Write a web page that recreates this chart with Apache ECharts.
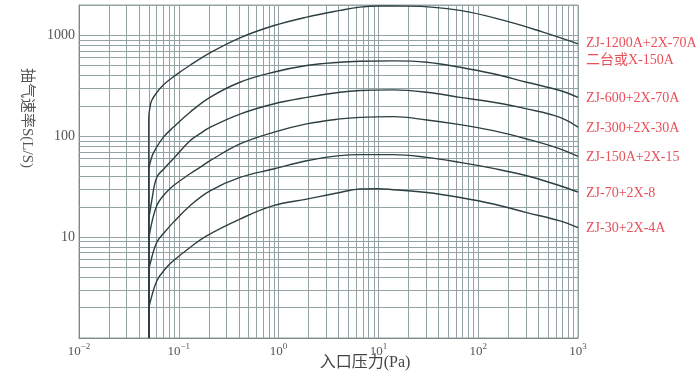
<!DOCTYPE html>
<html><head><meta charset="utf-8">
<script src="https://cdn.jsdelivr.net/npm/echarts@6/dist/echarts.min.js"></script>
<style>html,body{margin:0;padding:0;background:#fff}#c{width:700px;height:378px}</style>
</head><body><div id="c"></div>
<script>
// Series names (end labels)
const seriesNames = ['ZJ-1200A+2X-70A\n二台或X-150A','ZJ-600+2X-70A','ZJ-300+2X-30A','ZJ-150A+2X-15','ZJ-70+2X-8','ZJ-30+2X-4A'];
// [inlet pressure Pa, pumping speed L/S]
const zj1200 = [[0.05,1],[0.05,150],[0.0515,195],[0.0535,226],[0.0601,271],[0.0699,322],[0.0881,388],[0.1295,506],[0.2054,672],[0.4104,946],[0.885,1245],[1.912,1517],[4.124,1767],[6.54,1905],[10,1955],[20,1950],[65.7,1767],[208,1352],[446,1076],[1000,825]];
const zj600 = [[0.05,1],[0.05,45],[0.0535,62],[0.0577,73],[0.0699,97.5],[0.0881,122.6],[0.1295,173],[0.2054,243],[0.4104,343],[0.885,431],[1.912,502],[4.124,542],[6.54,554],[14.1,559],[30.5,542],[65.7,483],[141.7,416],[306,343],[660,284],[1000,243]];
const zj300 = [[0.05,1],[0.05,15],[0.0515,18],[0.0535,22.9],[0.0601,39],[0.0727,48.8],[0.0881,59.9],[0.1295,90.4],[0.163,106],[0.2054,122.6],[0.4104,166],[0.885,209],[1.912,243],[4.124,273],[6.54,284],[14.1,288],[30.5,273],[65.7,243],[141.7,217],[306,187],[660,154],[1000,123]];
const zj150 = [[0.05,1],[0.05,9],[0.0515,11.5],[0.0601,20.5],[0.0727,26.9],[0.0881,32.3],[0.1295,42.5],[0.17,50.5],[0.2054,57.2],[0.4104,83.9],[0.885,109.3],[1.912,132.5],[4.124,148.5],[6.54,154],[14.1,156.5],[30.5,145],[65.7,130.4],[141.7,113.6],[306,94],[660,75],[1000,63]];
const zj70 = [[0.05,1],[0.05,4.5],[0.0515,5.4],[0.0601,8.84],[0.0727,11.3],[0.0881,14],[0.1295,20.5],[0.2054,28.8],[0.4104,39.1],[0.885,47.3],[1.912,57.2],[4.124,64.2],[6.54,65.7],[14.1,65.7],[30.5,61.7],[65.7,55.1],[141.7,48],[306,40.6],[660,32.3],[1000,28]];
const zj30 = [[0.05,1],[0.05,1.9],[0.0515,2.24],[0.0601,3.68],[0.0727,4.8],[0.0881,5.82],[0.1295,7.9],[0.19,10.3],[0.4104,15.1],[0.885,20.5],[1.912,23.8],[4.124,27.7],[6.54,30],[10,30.2],[14.1,29.5],[30.5,27.7],[65.7,24.7],[141.7,21.3],[306,17.5],[660,14.5],[1000,12.4]];
const curves = [zj1200, zj600, zj300, zj150, zj70, zj30];
// Axis ticks
const xTickExponents = [-2,-1,0,1,2,3];
const yTickValues = [10,100,1000];
const yTickLabels = ['10','100','1000'];
const minorMultipliers = [2,3,4,5,6,7,8,9];
const xDecades = [0.01,0.1,1,10,100];
const yDecades = [1,10,100,1000];

const gridColor = '#93a3a3';
const curveColor = '#2e3f3f';
const labelRed = '#e8505a';

const xMinor = [];
xDecades.forEach(d => minorMultipliers.forEach(m => xMinor.push({xAxis: +(d*m).toPrecision(3)})));
const yMinor = [];
yDecades.forEach(d => minorMultipliers.forEach(m => { if (d*m < 2000) yMinor.push({yAxis: d*m}); }));

const series = [{
  type: 'line', data: [], z: 1, silent: true,
  markLine: {
    z: 1, silent: true, symbol: ['none','none'], animation: false,
    label: {show: false},
    lineStyle: {type: 'solid', color: gridColor, width: 1},
    emphasis: {disabled: true},
    data: xMinor.concat(yMinor)
  }
}];
curves.forEach((c, i) => {
  series.push({
    type: 'line', name: seriesNames[i], data: c, z: 10,
    smooth: 0.4, showSymbol: false, symbol: 'none',
    lineStyle: {color: curveColor, width: 1.4},
    endLabel: {show: true, formatter: seriesNames[i], color: labelRed, fontSize: 14,
      fontFamily: 'Liberation Serif, Noto Sans CJK SC', lineHeight: 17, distance: 8,
      offset: i === 0 ? [0, 8] : [0, 1]},
    emphasis: {disabled: true}
  });
});

const chart = echarts.init(document.getElementById('c'));
chart.setOption({
  animation: false,
  backgroundColor: '#ffffff',
  grid: {left: 79, right: 122, top: 5, bottom: 40, show: true, borderColor: gridColor, borderWidth: 1},
  xAxis: {
    type: 'log', logBase: 10, min: 0.01, max: 1000,
    axisLine: {show: true, lineStyle: {color: '#7a8a8a', width: 1}},
    axisTick: {show: false},
    splitLine: {show: true, lineStyle: {color: gridColor, width: 1}},
    axisLabel: {
      margin: 4,
      formatter: function (v) {
        const e = Math.round(Math.log10(v));
        if (xTickExponents.indexOf(e) < 0) return '';
        return '{b|10}{s|' + (e < 0 ? '−' + (-e) : e) + '}';
      },
      rich: {
        b: {fontSize: 13, lineHeight: 16, color: '#555', fontFamily: 'Liberation Serif', verticalAlign: 'bottom'},
        s: {fontSize: 9, lineHeight: 9, color: '#555', fontFamily: 'Liberation Serif', verticalAlign: 'top'}
      }
    }
  },
  yAxis: {
    type: 'log', logBase: 10, min: 1, max: 2000,
    axisLine: {show: true, lineStyle: {color: '#7a8a8a', width: 1}},
    axisTick: {show: false},
    splitLine: {show: true, lineStyle: {color: gridColor, width: 1}},
    axisLabel: {
      margin: 4, color: '#555', fontSize: 14, fontFamily: 'Liberation Serif',
      formatter: function (v) {
        for (let i = 0; i < yTickValues.length; i++) {
          if (Math.abs(v - yTickValues[i]) / yTickValues[i] < 1e-6) return yTickLabels[i];
        }
        return '';
      }
    }
  },
  graphic: [
    {type: 'text', x: 27, y: 118, rotation: -Math.PI / 2,
     style: {text: '抽气速率S(L/S)', align: 'center', verticalAlign: 'middle',
       fontSize: 15, fontFamily: 'Liberation Serif, Noto Sans CJK SC', fill: '#555'}},
    {type: 'text', x: 365, y: 363,
     style: {text: '入口压力(Pa)', align: 'center', verticalAlign: 'middle',
       fontSize: 16, fontFamily: 'Liberation Serif, Noto Sans CJK SC', fill: '#444'}}
  ],
  series: series
});
</script>
</body></html>
